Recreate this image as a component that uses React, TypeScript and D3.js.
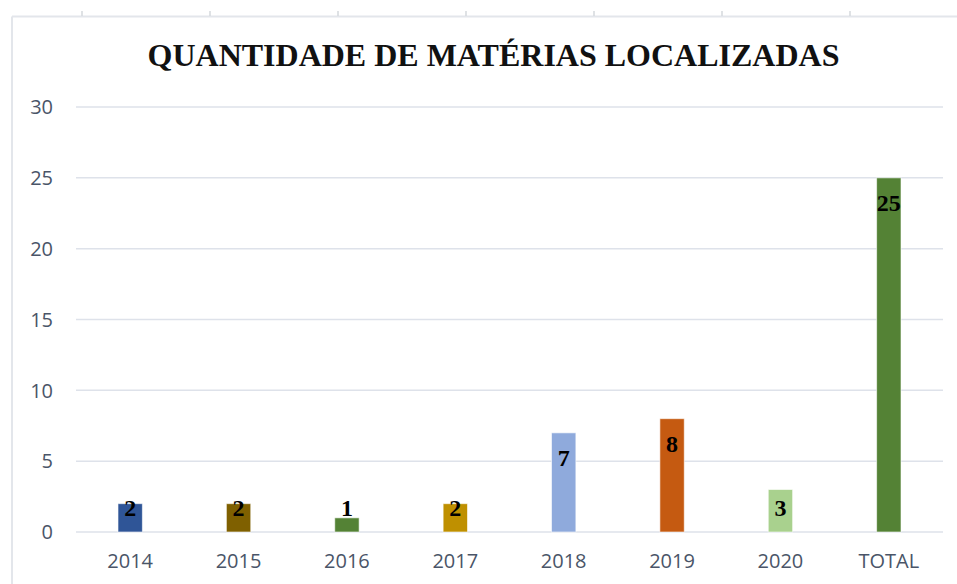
import React from "react";
import * as d3 from "d3";

const categories = ["2014", "2015", "2016", "2017", "2018", "2019", "2020", "TOTAL"];
const values = [2, 2, 1, 2, 7, 8, 3, 25];
const barColors = ["#2F5597", "#7F6000", "#548235", "#BF9000", "#8FAADC", "#C55A11", "#A9D18E", "#548235"];
const yTicks = [0, 5, 10, 15, 20, 25, 30];
const title = "QUANTIDADE DE MATÉRIAS LOCALIZADAS";

const W = 957;
const H = 584;
const plotLeft = 76;
const plotRight = 943;
const plotTop = 107;
const plotBottom = 532;

export default function App() {
  const x = d3.scaleBand<string>().domain(categories).range([plotLeft, plotRight]).paddingInner(0.775).paddingOuter(0.3875);
  const y = d3.scaleLinear().domain([0, 30]).range([plotBottom, plotTop]);
  const frameTicks = d3.range(7).map((i) => 82 + i * 128);
  const tickColor = "#4A5568";

  return (
    <svg
      width={W}
      height={H}
      style={{ position: "absolute", left: 0, top: 0, background: "#fff" }}
    >
      {/* frame */}
      <line x1={12} x2={W} y1={16.5} y2={16.5} stroke="#E3E6EB" strokeWidth={2} />
      <line x1={12} x2={12} y1={16.5} y2={H} stroke="#E3E6EB" strokeWidth={2} />
      {frameTicks.map((fx) => (
        <line key={fx} x1={fx} x2={fx} y1={11} y2={16} stroke="#D5D8DD" strokeWidth={1.5} />
      ))}
      {/* title */}
      <text
        x={493.5}
        y={66}
        textAnchor="middle"
        fontFamily="'Liberation Serif', 'Times New Roman', serif"
        fontWeight="bold"
        fontSize={32}
        fill="#111"
      >
        {title}
      </text>
      {/* gridlines */}
      {yTicks.map((t) => (
        <g key={t}>
          <line x1={plotLeft} x2={plotRight} y1={y(t)} y2={y(t)} stroke="#DEE2EA" strokeWidth={1.5} />
          <text
            x={53}
            y={y(t)}
            dy="0.36em"
            textAnchor="end"
            fontFamily="'Open Sans', sans-serif"
            fontSize={20}
            fill={tickColor}
          >
            {t}
          </text>
        </g>
      ))}
      {/* bars */}
      {categories.map((c, i) => {
        const bx = x(c)!;
        const bw = x.bandwidth();
        const top = y(values[i]);
        const labelY = Math.min(top + 25, plotBottom - 24);
        return (
          <g key={c}>
            <rect
              x={bx}
              y={top}
              width={bw}
              height={plotBottom - top}
              fill={barColors[i]}
              stroke="#ffffff"
              strokeOpacity={0.6}
              strokeWidth={1}
            />
            <text
              x={bx + bw / 2}
              y={labelY}
              dy="0.35em"
              textAnchor="middle"
              fontFamily="'Liberation Serif', 'Times New Roman', serif"
              fontWeight="bold"
              fontSize={24}
              fill="#000"
            >
              {values[i]}
            </text>
            <text
              x={bx + bw / 2}
              y={plotBottom + 36}
              textAnchor="middle"
              fontFamily="'Open Sans', sans-serif"
              fontSize={20}
              fill={tickColor}
            >
              {c}
            </text>
          </g>
        );
      })}
    </svg>
  );
}
